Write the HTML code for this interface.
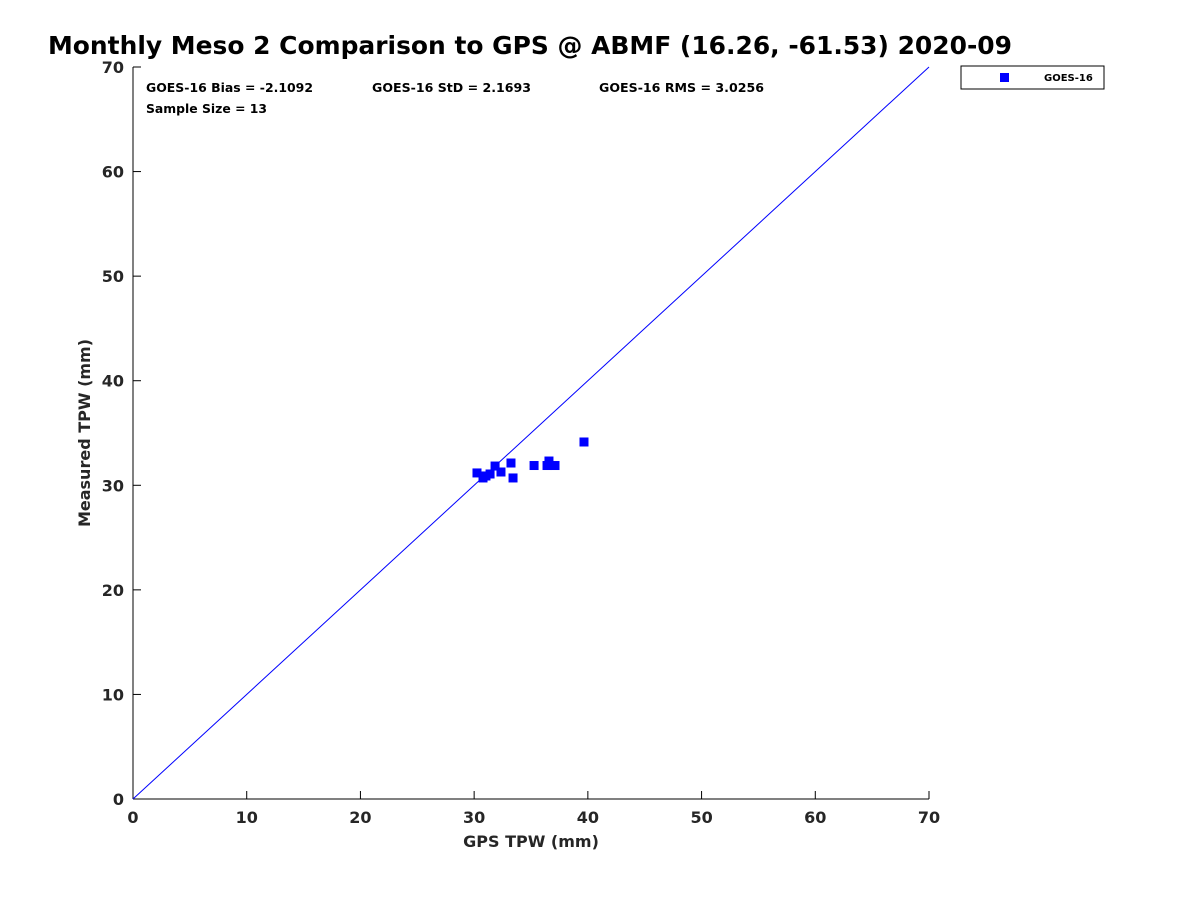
<!DOCTYPE html>
<html><head><meta charset="utf-8"><style>
body{margin:0;background:#fff;font-family:"Liberation Sans",sans-serif}
text{font-family:"DejaVu Sans","Liberation Sans",sans-serif;font-weight:bold}
</style></head><body>
<svg id="chart" width="1200" height="900">
<text x="48" y="54" font-size="25" fill="#000" textLength="964" lengthAdjust="spacingAndGlyphs">Monthly Meso 2 Comparison to GPS @ ABMF (16.26, -61.53) 2020-09</text>
<line x1="133" y1="67" x2="133" y2="799" stroke="#000"/>
<line x1="133" y1="799" x2="929" y2="799" stroke="#000"/>
<g id="xt"></g>
<g id="yt"></g>
<text x="531" y="847" font-size="16" text-anchor="middle" fill="#262626">GPS TPW (mm)</text>
<text transform="translate(90,433) rotate(-90)" font-size="16" text-anchor="middle" fill="#262626">Measured TPW (mm)</text>
<text x="146" y="92" font-size="12" textLength="167" lengthAdjust="spacingAndGlyphs">GOES-16 Bias = -2.1092</text>
<text x="372" y="92" font-size="12" textLength="159" lengthAdjust="spacingAndGlyphs">GOES-16 StD = 2.1693</text>
<text x="599" y="92" font-size="12" textLength="165" lengthAdjust="spacingAndGlyphs">GOES-16 RMS = 3.0256</text>
<text x="146" y="113" font-size="12" textLength="121" lengthAdjust="spacingAndGlyphs">Sample Size = 13</text>
<g id="marks"></g>
<g>
<rect x="961" y="66" width="143" height="23" fill="#fff" stroke="#000"/>
<rect x="1000" y="73" width="9" height="9" fill="#0000ff"/>
<text x="1044" y="81" font-size="10">GOES-16</text>
</g>
</svg>
<script>
const gpsValues=[39.66,33.24,35.27,36.58,36.41,37.11,31.84,32.36,33.42,30.25,30.78,31.40,31.04];
const goesValues=[34.14,32.13,31.89,32.32,31.89,31.89,31.84,31.27,30.70,31.18,30.70,31.08,30.89];
const xTicks=[0,10,20,30,40,50,60,70];
const yTicks=[0,10,20,30,40,50,60,70];
const NS="http://www.w3.org/2000/svg";
const X=v=>133+v*(796/70), Y=v=>799-v*(732/70);
function mk(t,a,p){const e=document.createElementNS(NS,t);for(const k in a)e.setAttribute(k,a[k]);p.appendChild(e);return e;}
const xt=document.getElementById('xt'),yt=document.getElementById('yt'),m=document.getElementById('marks');
xTicks.forEach(v=>{mk('line',{x1:X(v),x2:X(v),y1:799,y2:791,stroke:'#000'},xt);
 const t=mk('text',{x:X(v),y:823,'font-size':16,'text-anchor':'middle',fill:'#262626'},xt);t.textContent=v;
 
 });
yTicks.forEach(v=>{mk('line',{x1:133,x2:141,y1:Y(v),y2:Y(v),stroke:'#000'},yt);
 const t=mk('text',{x:124,y:Y(v)+6,'font-size':16,'text-anchor':'end',fill:'#262626'},yt);t.textContent=v;
 
 });
const l=mk('line',{x1:X(0),y1:Y(0),x2:X(70),y2:Y(70),stroke:'#0000ff','stroke-width':1},m);


gpsValues.forEach((g,i)=>{const r=mk('rect',{x:X(g)-4.5,y:Y(goesValues[i])-4.5,width:9,height:9,fill:'#0000ff'},m);
 
 });
</script>
</body></html>
